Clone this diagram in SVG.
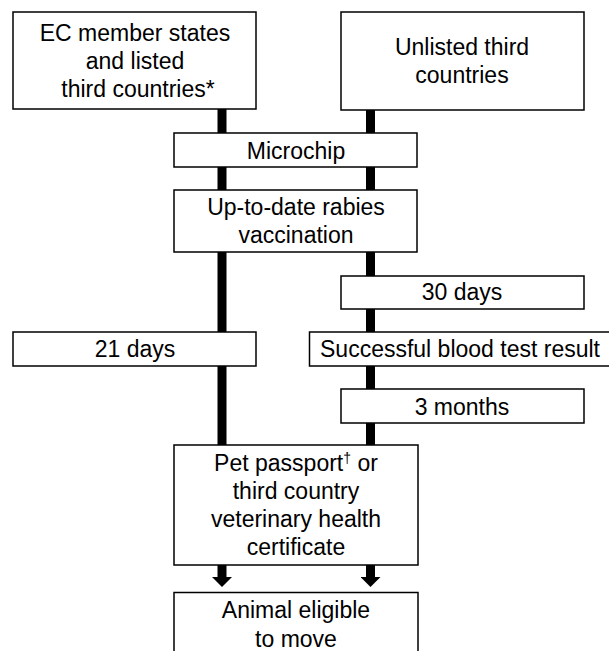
<svg xmlns="http://www.w3.org/2000/svg" width="609" height="651" viewBox="0 0 609 651">
<defs>
<style>
.box{fill:#fff;stroke:#000;stroke-width:1.5}
.bar{stroke:#000;stroke-width:9;fill:none}
text{font-family:"Liberation Sans",Arial,sans-serif;font-size:23px;fill:#000;text-anchor:middle}
</style>
<marker id="ah" markerUnits="userSpaceOnUse" markerWidth="10" markerHeight="20" refX="0" refY="10" orient="auto" viewBox="0 0 10 20">
<path d="M0,0 L10,10 L0,20 z" fill="#000"/>
</marker>
</defs>
<rect width="609" height="651" fill="#fff"/>
<g id="connectors">
<line class="bar" x1="222" y1="109" x2="222" y2="446"/>
<line class="bar" x1="370.5" y1="110" x2="370.5" y2="446"/>
<line class="bar" x1="222" y1="565" x2="222" y2="577" marker-end="url(#ah)"/>
<line class="bar" x1="370.5" y1="565" x2="370.5" y2="577" marker-end="url(#ah)"/>
</g>
<g id="ec-states">
<rect class="box" x="13" y="12" width="243" height="97"/>
<text x="135" y="41">EC member states</text>
<text x="135" y="69">and listed</text>
<text x="138" y="97">third countries*</text>
</g>
<g id="unlisted">
<rect class="box" x="341" y="12" width="243" height="98"/>
<text x="462" y="55">Unlisted third</text>
<text x="462" y="83">countries</text>
</g>
<g id="microchip">
<rect class="box" x="174" y="133" width="243" height="34"/>
<text x="296" y="159">Microchip</text>
</g>
<g id="vaccination">
<rect class="box" x="174" y="190" width="243" height="62"/>
<text x="296" y="215">Up-to-date rabies</text>
<text x="296" y="243">vaccination</text>
</g>
<g id="days30">
<rect class="box" x="341" y="276" width="243" height="33"/>
<text x="462" y="300">30 days</text>
</g>
<g id="days21">
<rect class="box" x="13" y="332" width="243" height="34"/>
<text x="135" y="357">21 days</text>
</g>
<g id="bloodtest">
<rect class="box" x="309.5" y="332" width="310" height="34"/>
<text x="460" y="357">Successful blood test result</text>
</g>
<g id="months3">
<rect class="box" x="341" y="389" width="243" height="34"/>
<text x="462" y="415">3 months</text>
</g>
<g id="passport">
<rect class="box" x="174" y="445" width="244" height="120"/>
<text x="296" y="471">Pet passport<tspan font-size="14" dy="-8">†</tspan><tspan dy="8"> or</tspan></text>
<text x="296" y="499">third country</text>
<text x="296" y="527">veterinary health</text>
<text x="296" y="555">certificate</text>
</g>
<g id="eligible">
<rect class="box" x="174" y="592.5" width="244" height="70"/>
<text x="296" y="618">Animal eligible</text>
<text x="296" y="647">to move</text>
</g>
</svg>
